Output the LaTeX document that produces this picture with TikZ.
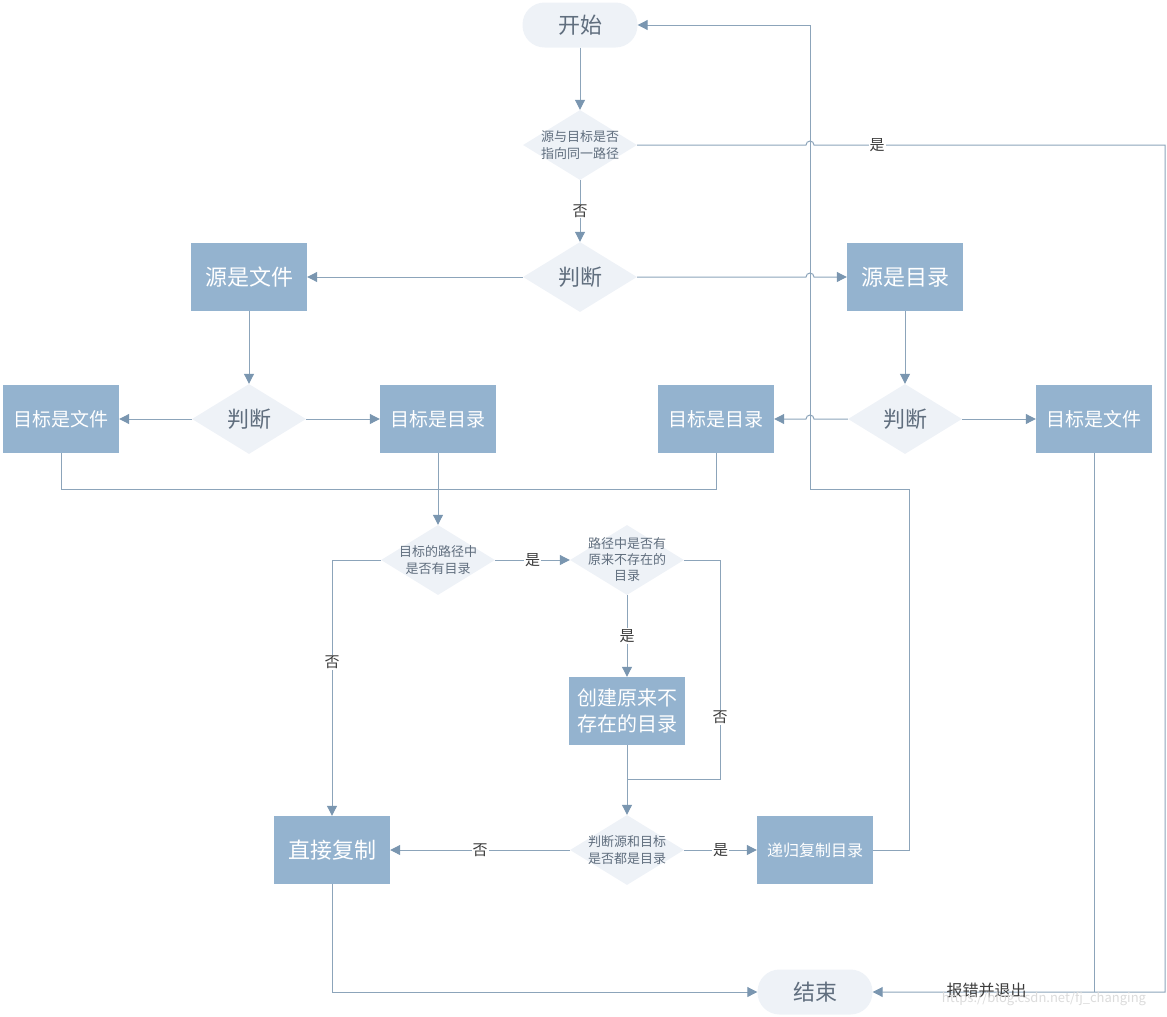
\documentclass[tikz,border=0pt]{standalone}
\usepackage{fontspec}
\setmainfont{Noto Sans CJK SC}
\usetikzlibrary{shapes,arrows.meta,positioning,calc}
\usepackage{xcolor}
\definecolor{boxblue}{RGB}{148,179,207}
\definecolor{paleblue}{RGB}{238,242,247}
\definecolor{linegray}{RGB}{140,164,186}
\definecolor{tipgray}{RGB}{122,150,176}
\definecolor{dtextgray}{RGB}{96,110,126}
\definecolor{labelgray}{RGB}{60,60,60}

\begin{document}
\begin{tikzpicture}[
    x=1pt, y=-1pt,
    every node/.style={font=\fontsize{14}{17}\selectfont},
    terminal/.style={rectangle, rounded corners=22pt, fill=paleblue, text=dtextgray, minimum width=115pt, minimum height=45pt, font=\fontsize{22}{26}\selectfont},
    proc/.style={rectangle, fill=boxblue, text=white, minimum width=116pt, minimum height=68pt, inner sep=0pt, align=center, font=\fontsize{22}{26}\selectfont},
    decision/.style={diamond, fill=paleblue, minimum width=114pt, minimum height=70pt, inner sep=0pt},
    dtext/.style={text=dtextgray, align=center, font=\fontsize{13}{17}\selectfont},
    dbig/.style={text=dtextgray, font=\fontsize{22}{26}\selectfont},
    yesno/.style={fill=white, text=labelgray, inner sep=1pt, font=\fontsize{15}{17}\selectfont},
    arrow/.style={draw=linegray, line width=1pt, -{Triangle[length=10pt, width=10pt, color=tipgray]}},
    link/.style={draw=linegray, line width=1pt}
]
\useasboundingbox (0,0) rectangle (1167,1017);

% Start and first check
\node[terminal] (start) at (580,25) {开始};
\node[decision, label={[dtext]center:{源与目标是否\\指向同一路径}}] (same) at (580,145) {};
\node[decision, label={[dbig]center:判断}] (kind) at (580,277) {};

% Source kind
\node[proc] (srcfile) at (249,277) {源是文件};
\node[proc] (srcdir) at (905,277) {源是目录};

% Target kind
\node[decision, label={[dbig]center:判断}] (filekind) at (249,419) {};
\node[proc, font=\fontsize{19}{23}\selectfont] (ffile) at (61,419) {目标是文件};
\node[proc, font=\fontsize{19}{23}\selectfont] (fdir) at (438,419) {目标是目录};
\node[decision, label={[dbig]center:判断}] (dirkind) at (905,419) {};
\node[proc, font=\fontsize{19}{23}\selectfont] (ddir) at (716,419) {目标是目录};
\node[proc, font=\fontsize{19}{23}\selectfont] (dfile) at (1094,419) {目标是文件};

% Path checks
\node[decision, label={[dtext]center:{目标的路径中\\是否有目录}}] (haspath) at (438,560) {};
\node[decision, label={[dtext, font=\fontsize{13}{16}\selectfont]center:{路径中是否有\\原来不存在的\\目录}}] (missing) at (627,560) {};
\node[proc, font=\fontsize{20}{26}\selectfont] (mkdir) at (627,711) {创建原来不\\存在的目录};
\node[decision, label={[dtext]center:{判断源和目标\\是否都是目录}}] (bothdir) at (627,850) {};

% Copy and end
\node[proc] (direct) at (332,850) {直接复制};
\node[proc, font=\fontsize{16}{20}\selectfont] (recur) at (815,850) {递归复制目录};
\node[terminal] (end) at (815,992) {结束};

\coordinate (loopturn) at (810,489);
\coordinate (errx) at (1165,992);
\coordinate (nojoin) at (627,779);

% Top part
\draw[arrow] (start) -- (same);
\draw[arrow] (same) -- node[yesno] {否} (kind);
\draw[arrow] (kind) -- (srcfile);
\draw[arrow] (kind.east) -- ([xshift=-4pt]kind.east -| loopturn) arc[start angle=180, end angle=0, radius=4pt] -- (srcdir);
\draw[arrow] (same.east) -- ([xshift=-4pt]same.east -| loopturn) arc[start angle=180, end angle=0, radius=4pt]
    -- node[yesno, pos=0.18] {是} (errx |- same.east) -- (errx) -- node[text=labelgray, font=\fontsize{16}{18}\selectfont, pos=0.61, yshift=2pt] {报错并退出} (end);

% Source file / source dir
\draw[arrow] (srcfile) -- (filekind);
\draw[arrow] (filekind) -- (ffile);
\draw[arrow] (filekind) -- (fdir);
\draw[arrow] (srcdir) -- (dirkind);
\draw[arrow] (dirkind) -- (dfile);
\draw[arrow] (dirkind.west) -- ([xshift=4pt]dirkind.west -| loopturn) arc[start angle=0, end angle=180, radius=4pt] -- (ddir);
\draw[link] (ffile.south) |- (ddir.south |- loopturn) -- (ddir.south);
\draw[link] (dfile.south) -- (dfile.south |- errx);

% Path checks
\draw[arrow] (fdir) -- (haspath);
\draw[arrow] (haspath) -- node[yesno] {是} (missing);
\draw[arrow] (haspath.west) -| node[yesno, pos=0.7] {否} (direct);
\draw[arrow] (missing) -- node[yesno] {是} (mkdir);
\draw[link] (missing.east) -- ++(36,0) |- node[yesno, pos=0.36] {否} (nojoin);
\draw[arrow] (mkdir) -- (bothdir);

% Copy
\draw[arrow] (bothdir) -- node[yesno] {否} (direct);
\draw[arrow] (bothdir) -- node[yesno] {是} (recur);
\draw[arrow] (recur.east) -- ++(36,0) |- (loopturn) |- (start);
\draw[arrow] (direct) |- (end);

% Watermark
\node[text=black!14, font=\fontsize{13}{15}\selectfont] (mark) at (1044,999) {https://blog.csdn.net/fj\_changing};

\end{tikzpicture}
\end{document}
